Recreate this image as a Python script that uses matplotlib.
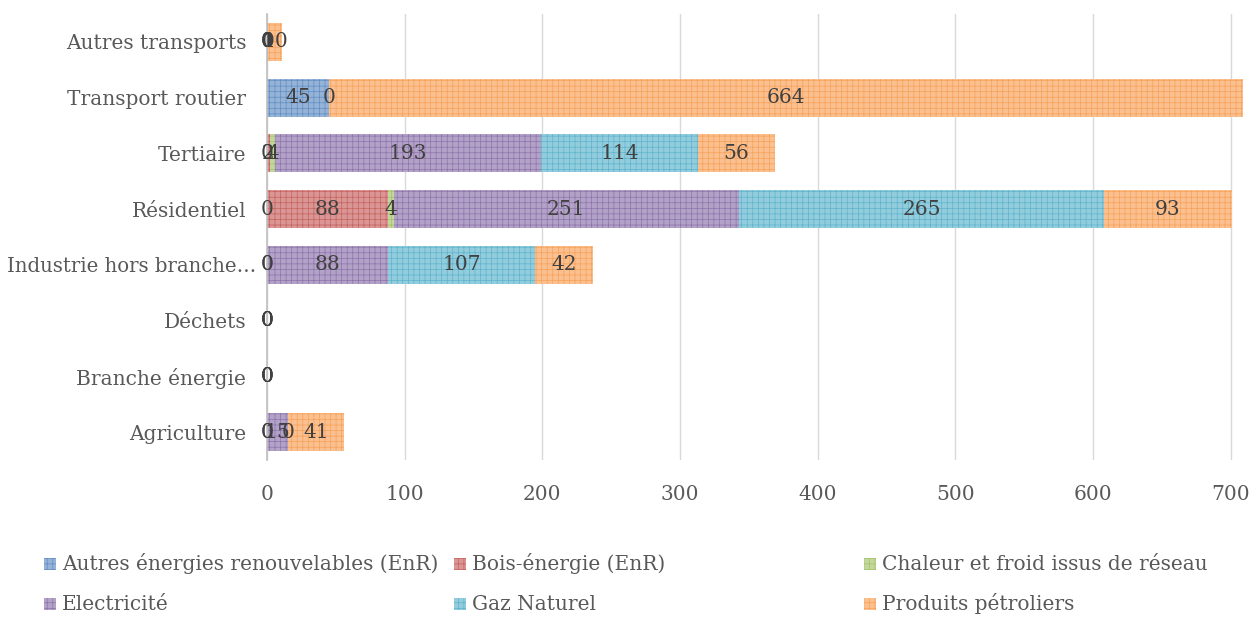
import numpy as np
import matplotlib
matplotlib.use("Agg")
import matplotlib.pyplot as plt
from matplotlib.patches import Rectangle
from matplotlib.colors import to_rgb
from matplotlib.transforms import ScaledTranslation

categories = ["Agriculture", "Branche énergie", "Déchets", "Industrie hors branche…",
              "Résidentiel", "Tertiaire", "Transport routier", "Autres transports"]
series = ["Autres énergies renouvelables (EnR)", "Bois-énergie (EnR)",
          "Chaleur et froid issus de réseau", "Electricité", "Gaz Naturel", "Produits pétroliers"]
nan = np.nan
enr      = [0,   0,   0,   0,   0,   0,   45,  0]
bois     = [0,   0,   0,   0,   88,  2,   0,   0]
chaleur  = [nan, nan, nan, nan, 4,   4,   nan, 0]
elec     = [15,  0,   0,   88,  251, 193, nan, 1]
gaz      = [0,   nan, nan, 107, 265, 114, nan, 0]
petrole  = [41,  0,   0,   42,  93,  56,  664, 10]
values = [enr, bois, chaleur, elec, gaz, petrole]
colors = ["#4F81BD", "#C0504D", "#9BBB59", "#8064A2", "#4BACC6", "#F79646"]
xticks = [0, 100, 200, 300, 400, 500, 600, 700]

plt.rcParams['font.family'] = ['DejaVu Serif']
plt.rcParams['hatch.linewidth'] = 0.5
txt = "#595959"
fs = 14.5

W, H = 1250, 617
fig = plt.figure(figsize=(W/100, H/100), dpi=100)
ax = fig.add_axes([267/W, (H-460)/H, (1243-267)/W, (460-14)/H])

def lighten(c, f):
    r, g, b = to_rgb(c)
    return (r + (1-r)*f, g + (1-g)*f, b + (1-b)*f)

y = np.arange(len(categories))
left = np.zeros(len(categories))
for vals, col, name in zip(values, colors, series):
    v = np.array(vals, dtype=float)
    w = np.nan_to_num(v)
    bars = ax.barh(y, w, left=left, height=0.68, color=lighten(col, 0.4),
                   edgecolor=lighten(col, 0.1), hatch='+++', linewidth=0, label=name)
    labels = ["" if np.isnan(a) else f"{a:.0f}" for a in v]
    ax.bar_label(bars, labels=labels, label_type='center', fontsize=fs, color="#404040")
    left += w

ax.set_xlim(0, 709)
ax.set_ylim(-0.5, len(categories) - 0.5)
ax.set_yticks(y)
ax.set_yticklabels(categories, fontsize=fs, color=txt)
ax.set_xticks(xticks)
ax.set_xticklabels([str(t) for t in xticks], fontsize=fs, color=txt)
ax.tick_params(axis='both', length=0)
ax.tick_params(axis='x', pad=18)
ax.tick_params(axis='y', pad=15)
ax.grid(axis='x', color="#D9D9D9", linewidth=1)
ax.set_axisbelow(True)
for s in ['top', 'right', 'bottom']:
    ax.spines[s].set_visible(False)
ax.spines['left'].set_color("#BFBFBF")
ax.spines['left'].set_linewidth(1.2)

# long label shifted toward the axis (as in the reference)
for lab in ax.get_yticklabels():
    if lab.get_text().startswith("Industrie"):
        lab.set_fontsize(14.2)
        lab.set_transform(lab.get_transform() + ScaledTranslation(0.10, 0, fig.dpi_scale_trans))

# manual legend
cols_x = [44, 454, 864]
rows_y = [564, 604]
order = [[0, 3], [1, 4], [2, 5]]
sq = 12
for cx, idx in zip(cols_x, order):
    for ry, i in zip(rows_y, idx):
        fig.patches.append(Rectangle((cx/W, (H - ry - sq/2)/H), sq/W, sq/H,
                                     transform=fig.transFigure, facecolor=lighten(colors[i], 0.4),
                                     edgecolor=lighten(colors[i], 0.1), hatch='+++', linewidth=0))
        fig.text((cx + sq + 6)/W, (H - ry)/H, series[i], fontsize=fs, color=txt,
                 ha='left', va='center')

fig.savefig("out.png", dpi=100)
